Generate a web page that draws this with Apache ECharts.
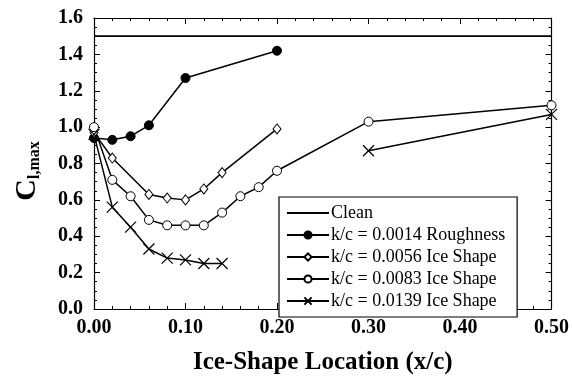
<!DOCTYPE html>
<html>
<head>
<meta charset="utf-8">
<script src="https://cdn.jsdelivr.net/npm/echarts@6/dist/echarts.min.js"></script>
<style>
  html, body { margin: 0; padding: 0; background: #fff; }
  #main { width: 572px; height: 380px; }
</style>
</head>
<body>
<div id="main"></div>
<script>
// data: [x/c, Cl,max]
const clean = [[0, 1.5], [0.5, 1.5]];
const rough0014 = [[0, 0.94], [0.02, 0.93], [0.04, 0.95], [0.06, 1.01], [0.10, 1.27], [0.20, 1.42]];
const ice0056 = [[0, 0.97], [0.02, 0.83], [0.06, 0.63], [0.08, 0.61], [0.10, 0.60], [0.12, 0.66], [0.14, 0.75], [0.20, 0.99]];
const ice0083 = [[0, 1.00], [0.02, 0.71], [0.04, 0.62], [0.06, 0.49], [0.08, 0.46], [0.10, 0.46], [0.12, 0.46],
  [0.14, 0.53], [0.16, 0.62], [0.18, 0.67], [0.20, 0.76], [0.30, 1.03], [0.50, 1.12]];
// gap between 0.14 and 0.30
const ice0139 = [[0, 0.96], [0.02, 0.56], [0.04, 0.45], [0.06, 0.33], [0.08, 0.28], [0.10, 0.27], [0.12, 0.25],
  [0.14, 0.25], [0.2, '-'], [0.30, 0.87], [0.50, 1.07]];

const names = ['Clean', 'k/c = 0.0014 Roughness', 'k/c = 0.0056 Ice Shape', 'k/c = 0.0083 Ice Shape', 'k/c = 0.0139 Ice Shape'];

const font = '"Liberation Serif", "DejaVu Serif", serif';
const black = '#000';

const chart = echarts.init(document.getElementById('main'), null, { renderer: 'canvas' });

function xAx(pos, main) {
  return {
    type: 'value', position: pos, min: 0, max: 0.5, interval: 0.1,
    axisLine: { show: true, onZero: false, lineStyle: { color: black, width: 1.2 } },
    axisTick: { show: true, inside: true, length: 6, lineStyle: { color: black, width: 1 } },
    minorTick: { show: true, splitNumber: 5, length: 3, lineStyle: { color: black, width: 1 } },
    splitLine: { show: false },
    axisLabel: {
      show: main, margin: 9, color: black, fontFamily: font, fontWeight: 'bold', fontSize: 20,
      formatter: v => v.toFixed(2)
    },
    name: main ? 'Ice-Shape Location (x/c)' : '',
    nameLocation: 'middle', nameGap: 41,
    nameTextStyle: { color: black, fontFamily: font, fontWeight: 'bold', fontSize: 25 }
  };
}
function yAx(pos, main) {
  return {
    type: 'value', position: pos, min: 0, max: 1.6, interval: 0.2,
    axisLine: { show: true, onZero: false, lineStyle: { color: black, width: 1.2 } },
    axisTick: { show: true, inside: true, length: 6, lineStyle: { color: black, width: 1 } },
    minorTick: { show: true, splitNumber: 4, length: 3, lineStyle: { color: black, width: 1 } },
    splitLine: { show: false },
    axisLabel: {
      show: main, margin: 11, color: black, fontFamily: font, fontWeight: 'bold', fontSize: 20,
      formatter: v => v.toFixed(1)
    }
  };
}

const lineBase = {
  type: 'line', xAxisIndex: 0, yAxisIndex: 0, connectNulls: false,
  lineStyle: { color: black, width: 1.5 }, animation: false, z: 3
};

chart.setOption({
  animation: false,
  backgroundColor: '#fff',
  grid: { left: 94, right: 20, top: 18, bottom: 56, containLabel: false },
  xAxis: [xAx('bottom', true), xAx('top', false)],
  yAxis: [yAx('left', true), yAx('right', false)],
  legend: {
    orient: 'vertical', left: 279, top: 197,
    data: [
      { name: names[0], itemStyle: { opacity: 0 } },
      names[1], names[2], names[3], names[4]
    ],
    backgroundColor: '#fff', borderColor: black, borderWidth: 1.2,
    padding: [7, 12, 7, 7],
    itemWidth: 42, itemHeight: 9, itemGap: 4,
    textStyle: { color: black, fontFamily: font, fontSize: 18, lineHeight: 18, padding: [0, 0, 0, -3] },
    z: 2
  },
  graphic: [{
    type: 'text', x: 27, y: 171, rotation: Math.PI / 2,
    style: {
      text: '{c|C}{s|l,max}', align: 'center', verticalAlign: 'middle', fill: black,
      rich: {
        c: { fontFamily: font, fontWeight: 'bold', fontSize: 30, fill: black },
        s: { fontFamily: font, fontWeight: 'bold', fontSize: 16, fill: black, padding: [16, 0, 0, 0] }
      }
    }
  }],
  series: [
    Object.assign({}, lineBase, {
      name: names[0], data: clean, symbol: 'none',
      itemStyle: { color: black }, lineStyle: { color: black, width: 1.8 }
    }),
    Object.assign({}, lineBase, {
      name: names[1], data: rough0014, symbol: 'circle', symbolSize: 9,
      itemStyle: { color: black, borderColor: black, borderWidth: 1 }
    }),
    Object.assign({}, lineBase, {
      name: names[2], data: ice0056, symbol: 'diamond', symbolSize: [8, 10],
      itemStyle: { color: '#fff', borderColor: black, borderWidth: 1 }
    }),
    Object.assign({}, lineBase, {
      name: names[3], data: ice0083, symbol: 'circle', symbolSize: 9,
      itemStyle: { color: '#fff', borderColor: black, borderWidth: 1 }
    }),
    Object.assign({}, lineBase, {
      name: names[4], data: ice0139, symbol: 'path://M0,0L10,10M10,0L0,10', symbolSize: 11,
      itemStyle: { color: 'none', borderColor: black, borderWidth: 1.2 }
    })
  ]
});
</script>
</body>
</html>
